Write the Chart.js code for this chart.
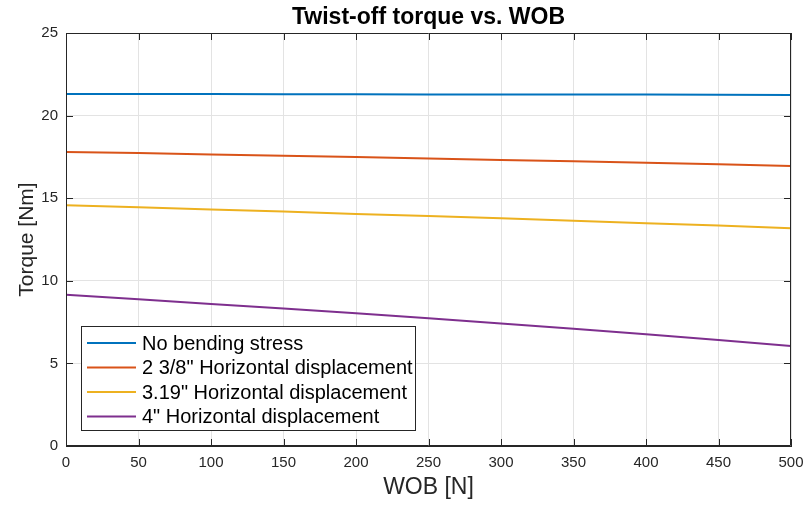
<!DOCTYPE html>
<html>
<head>
<meta charset="utf-8">
<script src="https://cdn.jsdelivr.net/npm/chart.js@4.4.1/dist/chart.umd.min.js"></script>
<style>
  html, body { margin: 0; padding: 0; background: #fff; }
  #wrap { width: 806px; height: 505px; }
</style>
</head>
<body>
<div id="wrap"><canvas id="torqueChart" width="806" height="505"></canvas></div>
<script>
// WOB sample points [N]
var wob = [0, 50, 100, 150, 200, 250, 300, 350, 400, 450, 500];

// twist-off torque [Nm] per case
var noBending = [21.30, 21.30, 21.30, 21.29, 21.29, 21.28, 21.28, 21.27, 21.27, 21.26, 21.25];
var disp238   = [17.80, 17.73, 17.65, 17.57, 17.49, 17.40, 17.31, 17.23, 17.14, 17.05, 16.95];
var disp319   = [14.58, 14.45, 14.32, 14.19, 14.05, 13.92, 13.78, 13.64, 13.49, 13.34, 13.18];
var disp4     = [9.15, 8.88, 8.60, 8.32, 8.03, 7.73, 7.42, 7.10, 6.77, 6.42, 6.05];

var seriesNames = ['No bending stress', '2 3/8" Horizontal displacement', '3.19" Horizontal displacement', '4" Horizontal displacement'];
var seriesColors = ['#0072BD', '#D95319', '#EDB120', '#7E2F8E'];
var seriesValues = [noBending, disp238, disp319, disp4];

var xTicks = [0, 50, 100, 150, 200, 250, 300, 350, 400, 450, 500];
var yTicks = [0, 5, 10, 15, 20, 25];

var titleText = 'Twist-off torque vs. WOB';
var axisColor = '#262626';
var fontFamily = '"Liberation Sans", Arial, Helvetica, sans-serif';

function pts(ys) {
    return ys.map(function (y, i) { return {x: wob[i], y: y}; });
}

var datasets = seriesValues.map(function (vals, i) {
    return {
        label: seriesNames[i],
        data: pts(vals),
        borderColor: seriesColors[i],
        backgroundColor: seriesColors[i],
        borderWidth: 2,
        pointRadius: 0,
        tension: 0,
        fill: false
    };
});

// title centred over the axes, box on top/right, inward ticks on all sides
var boxTicks = {
    id: 'boxTicks',
    afterDatasetsDraw: function (chart) {
        var ctx = chart.ctx, a = chart.chartArea;
        var xs = chart.scales.x, ys = chart.scales.y;
        var len = 7;
        ctx.save();
        ctx.strokeStyle = axisColor;
        ctx.lineWidth = 1;
        ctx.beginPath();
        ctx.rect(a.left + 0.5, a.top + 0.5, a.right - a.left - 1, a.bottom - a.top - 1);
        xTicks.forEach(function (t) {
            var px = Math.round(xs.getPixelForValue(t)) + 0.5;
            ctx.moveTo(px, a.bottom); ctx.lineTo(px, a.bottom - len);
            ctx.moveTo(px, a.top); ctx.lineTo(px, a.top + len);
        });
        yTicks.forEach(function (t) {
            var py = Math.round(ys.getPixelForValue(t)) + 0.5;
            ctx.moveTo(a.left, py); ctx.lineTo(a.left + len, py);
            ctx.moveTo(a.right, py); ctx.lineTo(a.right - len, py);
        });
        ctx.stroke();

        ctx.fillStyle = '#000';
        ctx.font = 'bold 23px ' + fontFamily;
        ctx.textAlign = 'center';
        ctx.textBaseline = 'alphabetic';
        ctx.fillText(titleText, (a.left + a.right) / 2, a.top - 9);
        ctx.restore();
    }
};

// legend box in the lower left corner of the axes
var innerLegend = {
    id: 'innerLegend',
    afterDraw: function (chart) {
        var ctx = chart.ctx, a = chart.chartArea;
        var x0 = a.left + 15, y0 = a.bottom - 120, w = 334, h = 104;
        ctx.save();
        ctx.fillStyle = '#ffffff';
        ctx.fillRect(x0, y0, w, h);
        ctx.strokeStyle = axisColor;
        ctx.lineWidth = 1;
        ctx.strokeRect(x0 + 0.5, y0 + 0.5, w, h);
        ctx.font = '20px ' + fontFamily;
        ctx.textBaseline = 'middle';
        ctx.textAlign = 'left';
        chart.data.datasets.forEach(function (ds, i) {
            var cy = y0 + 17 + i * 24.5;
            ctx.strokeStyle = ds.borderColor;
            ctx.lineWidth = 2;
            ctx.beginPath();
            ctx.moveTo(x0 + 6, cy);
            ctx.lineTo(x0 + 55, cy);
            ctx.stroke();
            ctx.fillStyle = '#000';
            ctx.fillText(ds.label, x0 + 61, cy + 1);
        });
        ctx.restore();
    }
};

var chart = new Chart(document.getElementById('torqueChart'), {
    type: 'line',
    data: {datasets: datasets},
    plugins: [boxTicks, innerLegend],
    options: {
        responsive: false,
        animation: false,
        layout: {autoPadding: false, padding: {top: 33, right: 15, left: 0, bottom: 0}},
        plugins: {
            legend: {display: false},
            tooltip: {enabled: false},
            title: {display: false}
        },
        scales: {
            x: {
                type: 'linear',
                min: 0,
                max: 500,
                afterBuildTicks: function (s) { s.ticks = xTicks.map(function (v) { return {value: v}; }); },
                afterFit: function (s) { s.height = 59; s.paddingLeft = 0; s.paddingRight = 0; },
                grid: {color: '#e3e3e3', drawTicks: false},
                border: {color: axisColor},
                ticks: {color: axisColor, padding: 8, maxRotation: 0, font: {family: fontFamily, size: 15}},
                title: {display: true, text: 'WOB [N]', color: axisColor, padding: {top: 0, bottom: 4}, font: {family: fontFamily, size: 23}}
            },
            y: {
                min: 0,
                max: 25,
                afterBuildTicks: function (s) { s.ticks = yTicks.map(function (v) { return {value: v}; }); },
                afterFit: function (s) { s.width = 66; s.paddingTop = 0; s.paddingBottom = 0; },
                grid: {color: '#e3e3e3', drawTicks: false},
                border: {color: axisColor},
                ticks: {color: axisColor, padding: 8, font: {family: fontFamily, size: 15}},
                title: {display: true, text: 'Torque [Nm]', color: axisColor, padding: {top: 15, bottom: 0}, font: {family: fontFamily, size: 21}}
            }
        }
    }
});
</script>
</body>
</html>
